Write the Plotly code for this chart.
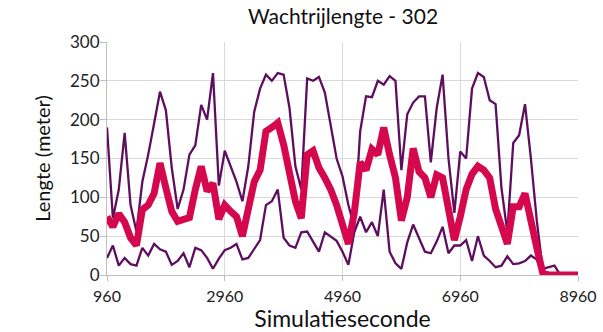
import plotly.graph_objects as go

# Simulation time (s)
t_start = 960
t_step = 100
n_points = 81
seconds = [t_start + t_step * i for i in range(n_points)]

# Queue length (m) — maximum over runs
upper = [190, 73, 110, 183, 90, 56, 120, 155, 195, 236,
         212, 138, 85, 110, 155, 167, 219, 200, 260, 115,
         160, 140, 120, 95, 140, 210, 240, 258, 250, 260,
         258, 215, 140, 110, 253, 250, 255, 235, 190, 150,
         127, 90, 62, 185, 230, 229, 250, 245, 256, 250,
         135, 207, 222, 230, 230, 145, 215, 258, 150, 80,
         159, 150, 240, 260, 255, 225, 220, 112, 55, 170,
         180, 220, 150, 70, 8, 10, 12, 0, 0, 0, 0]

# Queue length (m) — mean over runs
mean = [75, 62, 79, 68, 48, 38, 84, 90, 105, 144,
        112, 82, 69, 72, 74, 110, 140, 108, 118, 72,
        90, 82, 75, 50, 90, 120, 135, 185, 190, 196,
        168, 136, 95, 73, 155, 160, 138, 125, 110, 90,
        62, 40, 80, 145, 135, 162, 155, 190, 155, 125,
        70, 100, 163, 133, 125, 100, 129, 125, 85, 45,
        75, 110, 130, 140, 135, 125, 85, 60, 40, 88,
        88, 105, 65, 35, 3, 0, 0, 0, 0, 0, 0]

# Queue length (m) — minimum over runs
lower = [22, 38, 12, 22, 14, 12, 35, 25, 40, 33,
         30, 13, 18, 28, 10, 35, 32, 22, 8, 21,
         32, 35, 40, 20, 22, 33, 45, 90, 95, 110,
         48, 38, 35, 55, 56, 43, 30, 55, 50, 44,
         30, 13, 55, 75, 55, 68, 50, 110, 30, 15,
         8, 42, 65, 48, 30, 28, 43, 62, 28, 38,
         38, 45, 18, 50, 25, 18, 10, 12, 24, 14,
         15, 18, 25, 20, 0, 0, 0, 0, 0, 0, 0]

x_ticks = [960, 2960, 4960, 6960, 8960]
y_ticks = [0, 50, 100, 150, 200, 250, 300]

purple = "#5E0E5E"
crimson = "#D5084E"
grid = "#D9D9D9"
font_family = "Lato, 'Open Sans', sans-serif"

fig = go.Figure()
fig.add_trace(go.Scatter(x=seconds, y=upper, mode="lines",
                         line=dict(color=purple, width=2.3), showlegend=False))
fig.add_trace(go.Scatter(x=seconds, y=lower, mode="lines",
                         line=dict(color=purple, width=2.3), showlegend=False))
fig.add_trace(go.Scatter(x=seconds, y=mean, mode="lines",
                         line=dict(color=crimson, width=7), showlegend=False))

fig.update_layout(
    width=603, height=332,
    margin=dict(l=107, r=25, t=42, b=57, autoexpand=False),
    paper_bgcolor="white", plot_bgcolor="white",
    font=dict(family=font_family, color="#222222"),
    title=dict(text="Wachtrijlengte - 302", x=343 / 603, xanchor="center",
               y=1 - 17 / 332, yanchor="middle", automargin=False,
               font=dict(size=21, family=font_family, color="#111111")),
)
fig.update_xaxes(
    range=[960, 8960], tickvals=x_ticks, ticktext=[str(v) for v in x_ticks],
    automargin=False,
    showgrid=True, gridcolor=grid, gridwidth=1,
    showline=True, linecolor="#BFBFBF", linewidth=1,
    ticks="outside", ticklen=5, tickcolor="#BFBFBF",
    ticklabelstandoff=2,
    tickfont=dict(size=16, color="#222222"),
    title=dict(text="Simulatieseconde", font=dict(size=23, color="#111111"), standoff=1),
    zeroline=False,
)
fig.update_yaxes(
    range=[0, 300], tickvals=y_ticks,
    automargin=False,
    showgrid=True, gridcolor=grid, gridwidth=1,
    showline=True, linecolor="#BFBFBF", linewidth=1,
    ticks="outside", ticklen=6, tickcolor="#BFBFBF",
    ticklabelstandoff=-3,
    tickfont=dict(size=17, color="#222222"),
    title=dict(text="Lengte (meter)", font=dict(size=20, color="#111111"), standoff=14),
    zeroline=False,
)

fig.write_html("out.html", config={"displayModeBar": False},
               post_script="document.body.style.margin='0';")
